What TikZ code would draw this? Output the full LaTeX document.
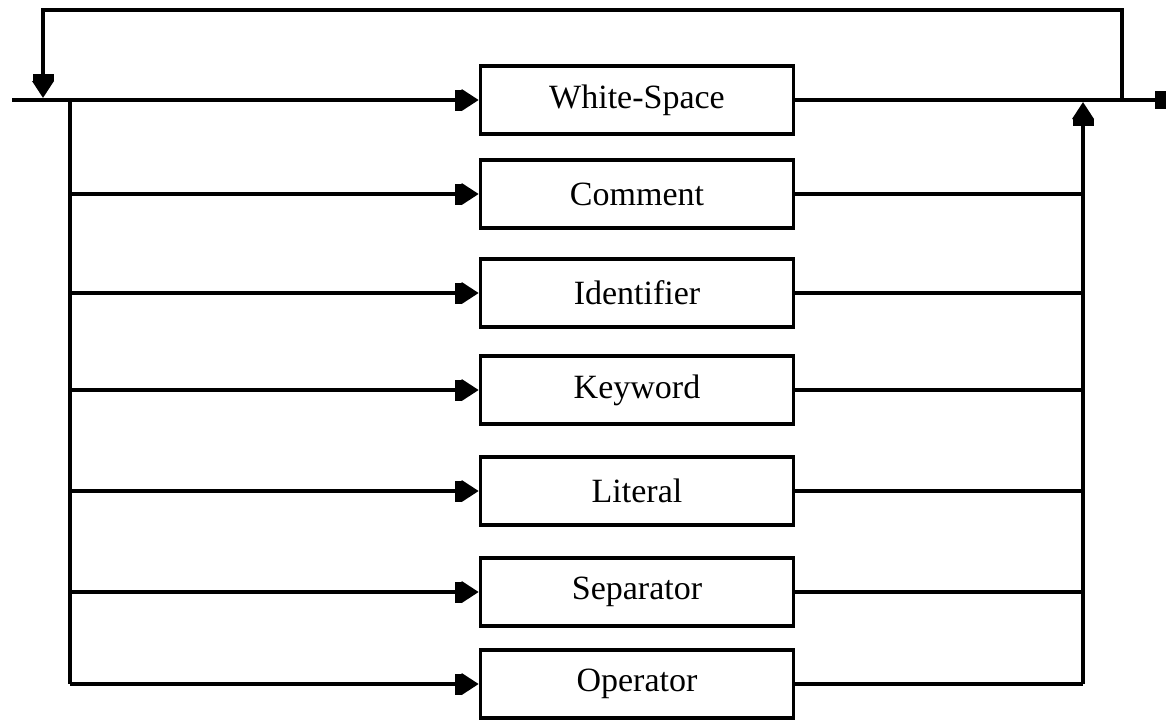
\documentclass[tikz,border=0pt]{standalone}
\usepackage{fontspec}
\setmainfont{Liberation Serif}
\usetikzlibrary{arrows.meta}
\tikzset{
  wire/.style={line width=3.6pt, line join=miter},
  flow/.style={wire, -{Square[length=7pt,width=21pt,sep=0pt]Triangle[length=17pt,width=21pt]}},
  finishwire/.style={wire, -{Square[length=11pt,width=18pt]}},
  termbox/.style={draw, line width=3.6pt, minimum width=313pt, minimum height=68pt,
    inner sep=0pt, font=\fontsize{34}{40}\selectfont}
}
\begin{document}
\begin{tikzpicture}[x=1pt,y=-1pt]
\useasboundingbox (0,0) rectangle (1166,721);
% boxes
\node[termbox] (ws) at (637,100) {White-Space};
\node[termbox] (cm) at (637,194) {Comment};
\node[termbox] (id) at (637,293) {Identifier};
\node[termbox] (kw) at (637,390) {Keyword};
\node[termbox] (lt) at (637,491) {Literal};
\node[termbox] (sp) at (637,592) {Separator};
\node[termbox] (op) at (637,684) {Operator};
% coordinates
\coordinate (start) at (12,100);
\coordinate (finish) at (1166,100);
\coordinate (l1) at (70,100);
\coordinate (l2) at (70,194);
\coordinate (l3) at (70,293);
\coordinate (l4) at (70,390);
\coordinate (l5) at (70,491);
\coordinate (l6) at (70,592);
\coordinate (l7) at (70,684);
\coordinate (r1) at (1083,102);
\coordinate (r2) at (1083,194);
\coordinate (r3) at (1083,293);
\coordinate (r4) at (1083,390);
\coordinate (r5) at (1083,491);
\coordinate (r6) at (1083,592);
\coordinate (r7) at (1083,684);
\coordinate (loopA) at (1122,100);
\coordinate (loopB) at (1122,10);
\coordinate (loopC) at (43,10);
\coordinate (loopD) at (43,98);
% main line
\draw[flow] (start) -- (ws.west);
\draw[finishwire] (ws.east) -- (finish);
% loop back
\draw[flow] (loopA) -- (loopB) -- (loopC) -- (loopD);
% left bus
\draw[wire] (l1) -- (l7);
\draw[flow] (l2) -- (cm.west);
\draw[flow] (l3) -- (id.west);
\draw[flow] (l4) -- (kw.west);
\draw[flow] (l5) -- (lt.west);
\draw[flow] (l6) -- (sp.west);
\draw[flow] (l7) -- (op.west);
% right bus
\draw[wire] (cm.east) -- (r2);
\draw[wire] (id.east) -- (r3);
\draw[wire] (kw.east) -- (r4);
\draw[wire] (lt.east) -- (r5);
\draw[wire] (sp.east) -- (r6);
\draw[wire] (op.east) -- (r7);
\draw[flow] (r7) -- (r1);
\end{tikzpicture}
\end{document}
